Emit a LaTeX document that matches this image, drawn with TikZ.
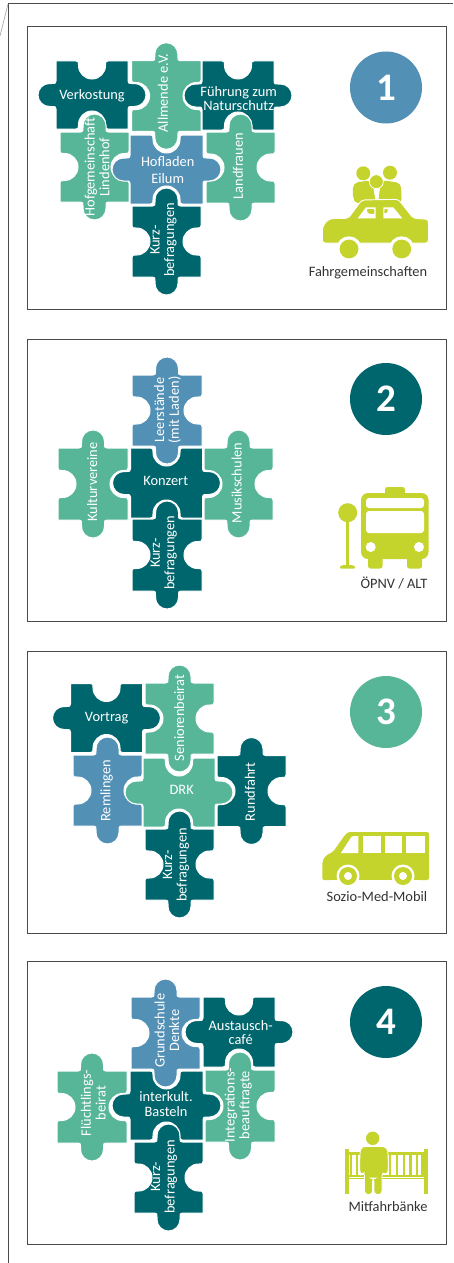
\documentclass[tikz,border=0pt]{standalone}
\usepackage{fontspec}
\setmainfont{Carlito}
\definecolor{teal}{HTML}{00666D}
\definecolor{mint}{HTML}{58B698}
\definecolor{sky}{HTML}{5390B5}
\definecolor{lime}{HTML}{C5D32D}
\definecolor{ink}{HTML}{333333}
\definecolor{frameline}{HTML}{4A4A4A}
\tikzset{
  frame/.style={draw=frameline,line width=1pt,fill=white},
  piecetext/.style={text=white,font=\fontsize{14.4}{14.6}\selectfont,align=center,inner sep=0pt},
  up/.style={piecetext,rotate=90},
  num/.style={circle,minimum size=72pt,inner sep=0pt,text=white,font=\fontsize{39}{39}\selectfont\bfseries},
  icontext/.style={text=ink,font=\fontsize{14.4}{15}\selectfont,inner sep=0pt},
  gap/.style={draw=white,line width=1pt}
}
\newcommand\pp[2]{({\ox+(\tx)*(#1)+(\nx)*(#2)*(\sg)},{\oy+(\ty)*(#1)+(\ny)*(#2)*(\sg)})}
\newcommand\W{(12.5-(\sg))}
\newcommand\sidepath{
  -- \pp{\len/2-\W-2.5}{0}
  .. controls \pp{\len/2-\W}{0} and \pp{\len/2-\W}{1} .. \pp{\len/2-\W}{4}
  -- \pp{\len/2-\W}{18-\W}
  .. controls \pp{\len/2-\W}{18-0.45*\W} and \pp{\len/2-0.55*\W}{18} .. \pp{\len/2}{18}
  .. controls \pp{\len/2+0.55*\W}{18} and \pp{\len/2+\W}{18-0.45*\W} .. \pp{\len/2+\W}{18-\W}
  -- \pp{\len/2+\W}{4}
  .. controls \pp{\len/2+\W}{1} and \pp{\len/2+\W}{0} .. \pp{\len/2+\W+2.5}{0}
  -- \pp{\len}{0}
}
% cx cy hw hh colour top right bottom left (+1 tab, -1 socket)
\newcommand\piece[9]{%
  \filldraw[fill=#5,gap] ({#1-#3},{#2-#4})
    \foreach \ox/\oy/\tx/\ty/\nx/\ny/\len/\sg in {
      #1-#3/#2-#4/1/0/0/-1/2*#3/#6,
      #1+#3/#2-#4/0/1/1/0/2*#4/#7,
      #1+#3/#2+#4/-1/0/0/1/2*#3/#8,
      #1-#3/#2+#4/0/-1/-1/0/2*#4/#9} {\sidepath} -- cycle;
}
\begin{document}
\begin{tikzpicture}[x=1pt,y=-1pt]
\useasboundingbox (0,0) rectangle (453,1263);
\fill[white] (0,0) rectangle (453,1263);
% outer lines
\coordinate (oa) at (453,4);
\coordinate (ob) at (8,4);
\coordinate (oc) at (8,1263);
\coordinate (od) at (0,36);
\draw[frameline,line width=1pt] (oa) -- (ob) -- (oc);
\draw[gray!70,line width=.7pt] (ob) -- (od);
% frames
\draw[frame] (27.3,27) rectangle (446.7,309);
\draw[frame] (27.3,339) rectangle (446.7,621);
\draw[frame] (27.3,651) rectangle (446.7,933);
\draw[frame] (27.3,961) rectangle (446.7,1244);

% ---------- panel 1
\piece{92}{95}{36}{34}{teal}{-1}{1}{-1}{1}
\piece{166.3}{96}{34.7}{35.3}{mint}{1}{-1}{1}{-1}
\piece{238}{95.5}{36}{34.5}{teal}{-1}{1}{-1}{1}
\piece{94.5}{167}{34.5}{35}{mint}{1}{-1}{1}{-1}
\piece{240.5}{167.5}{34.5}{35.5}{mint}{1}{-1}{1}{-1}
\piece{166.5}{241.5}{34.5}{35.5}{teal}{1}{-1}{1}{-1}
\piece{166.5}{169.5}{36.5}{34.5}{sky}{-1}{1}{-1}{1}
\node[piecetext] (n1a) at (92,96) {Verkostung};
\node[up] (n1b) at (163,93) {Allmende e.V.};
\node[piecetext] (n1c) at (238.7,98.7) {Führung zum\\Naturschutz};
\node[up] (n1d) at (97,167) {Hofgemeinschaft\\Lindenhof};
\node[piecetext,font=\fontsize{14.4}{17.5}\selectfont] (n1e) at (167.7,170) {Hofladen\\Eilum};
\node[up] (n1f) at (238,166) {Landfrauen};
\node[up] (n1g) at (163.5,240) {Kurz-\\befragungen};
\node[num,fill=sky] (c1) at (386,87.5) {1};

% car icon
\fill[lime] (363.3,173.3) circle (7);
\fill[lime] (390,172.7) circle (7);
\fill[lime,rounded corners=5pt] (356.7,204) -- (352.7,198) -- (353,183) -- (372,180) -- (376,204) -- cycle;
\fill[lime,rounded corners=5pt] (378,204) -- (381,180) -- (401,183) -- (401.7,204) -- cycle;
\filldraw[fill=lime,draw=white,line width=.8pt] (376.3,181.7) circle (7);
\filldraw[fill=lime,draw=white,line width=.8pt] (365.6,203) arc (180:0:10.7) -- cycle;
\filldraw[fill=lime,draw=white,line width=.9pt,rounded corners=3pt] (322.3,243) -- (322.3,232) .. controls (323,224) and (328,219) .. (335,218.5) -- (348.3,218.3) -- (361.7,200) -- (398.3,199.3) -- (413.3,218.3) -- (428.5,219.3) -- (428.5,243) -- cycle;
\fill[white] (357.7,218.3) -- (366,207.3) -- (375.7,207.3) -- (375.7,218.3) -- cycle;
\fill[white] (383.3,207.3) -- (393.3,207.3) -- (402.3,218.3) -- (383.3,218.3) -- cycle;
\fill[lime,rounded corners=1pt] (366.7,209) -- (374.3,209) -- (374.3,214) -- (368,213.5) -- cycle;
\fill[lime,rounded corners=1pt] (384.3,209) -- (388,209) -- (387,213) -- (384.3,213.5) -- cycle;
\fill[white] (349,249) circle (12.7);
\fill[white] (401.7,249) circle (12.7);
\fill[lime] (349,249) circle (9.4);
\fill[lime] (401.7,249) circle (9.4);
\node[icontext] (t1) at (368,273) {Fahrgemeinschaften};

% ---------- panel 2
\piece{167}{410.5}{35}{35.5}{sky}{1}{-1}{1}{-1}
\piece{93}{484}{35}{36}{mint}{1}{-1}{1}{-1}
\piece{238.5}{484}{34.5}{36}{mint}{1}{-1}{1}{-1}
\piece{167}{555}{35}{36}{teal}{1}{-1}{1}{-1}
\piece{166.5}{483}{36}{35}{teal}{-1}{1}{-1}{1}
\node[up] (n2a) at (167.5,410) {Leerstände\\(mit Laden)};
\node[piecetext] (n2b) at (165.7,481) {Konzert};
\node[up] (n2c) at (92.3,482) {Kulturvereine};
\node[up] (n2d) at (236.7,483) {Musikschulen};
\node[up] (n2e) at (163.7,553) {Kurz-\\befragungen};
\node[num,fill=teal] (c2) at (386,399) {2};
% bus icon
\fill[lime] (347.7,512.7) circle (9.5);
\fill[lime] (346.2,515) rectangle (349.2,566);
\fill[lime,rounded corners=1pt] (340,568.5) -- (340,566) -- (344,565) -- (351,565) -- (355,566) -- (355,568.5) -- cycle;
\fill[lime,rounded corners=2.5pt] (385,495) -- (385,487) -- (405,487) -- (405,495) -- cycle;
\fill[lime,rounded corners=2.5pt] (368,552) rectangle (382.5,568.5);
\fill[lime,rounded corners=2.5pt] (407,552) rectangle (422,568.5);
\fill[lime,rounded corners=7pt] (361,493) rectangle (428.5,559);
\fill[white,rounded corners=3pt] (366,498) rectangle (424,508);
\fill[white,rounded corners=3pt] (366,511) rectangle (424,533);
\fill[white] (370.7,547) circle (5);
\fill[white] (419,547) circle (5);
\node[icontext] (t2) at (394,583) {ÖPNV / ALT};

% ---------- panel 3
\piece{106.5}{718}{36}{34.5}{teal}{-1}{1}{-1}{1}
\piece{179.5}{718.5}{34.5}{35.5}{mint}{1}{-1}{1}{-1}
\piece{107.5}{790.5}{34.5}{35.5}{sky}{1}{-1}{1}{-1}
\piece{251.5}{791}{34.5}{35.5}{teal}{1}{-1}{1}{-1}
\piece{179.5}{864.5}{34.5}{35.5}{teal}{1}{-1}{1}{-1}
\piece{179}{792.5}{36}{34.5}{mint}{-1}{1}{-1}{1}
\node[piecetext] (n3a) at (106.7,717.7) {Vortrag};
\node[up] (n3b) at (179.3,718) {Seniorenbeirat};
\node[up] (n3c) at (106.7,790.7) {Remlingen};
\node[piecetext] (n3d) at (181.7,790) {DRK};
\node[up] (n3e) at (250,791.7) {Rundfahrt};
\node[up] (n3f) at (176,865) {Kurz-\\befragungen};
\node[num,fill=mint] (c3) at (386,712) {3};
% van icon
\fill[lime,rounded corners=2pt] (322.3,880) -- (322.3,865) .. controls (323,858) and (326,855) .. (333,852) -- (345,835) .. controls (347,833) and (349,832) .. (352,832) -- (429,832) -- (429,880) -- cycle;
\fill[white] (341,853) -- (350,839) .. controls (351,837) and (352,836) .. (354,836) -- (358.3,836) -- (358.3,853) -- cycle;
\fill[white] (363.3,836) rectangle (380.7,853);
\fill[white] (385,836) rectangle (402.3,853);
\fill[white] (406,836) rectangle (425,853);
\fill[white] (348,876) circle (11.5);
\fill[white] (403,876) circle (11.5);
\fill[white] (330,880) rectangle (420,890);
\fill[lime] (348,876) circle (9);
\fill[lime] (403,876) circle (9);
\fill[white] (348,876) circle (4);
\fill[white] (403,876) circle (4);
\node[icontext] (t3) at (377,897) {Sozio-Med-Mobil};

% ---------- panel 4
\piece{165.5}{1033}{34.5}{36}{sky}{1}{-1}{1}{-1}
\piece{239}{1032}{36}{35}{teal}{-1}{1}{-1}{1}
\piece{92}{1107}{35}{36}{mint}{1}{-1}{1}{-1}
\piece{240}{1106}{35}{36}{mint}{1}{-1}{1}{-1}
\piece{168.5}{1177.5}{34.5}{35.5}{teal}{1}{-1}{1}{-1}
\piece{166.5}{1105.5}{36.5}{34.5}{teal}{-1}{1}{-1}{1}
\node[up] (n4a) at (167,1030.7) {Grundschule\\Denkte};
\node[piecetext] (n4b) at (240.7,1032.7) {Austausch-\\café};
\node[up] (n4c) at (93.3,1103) {Flüchtlings-\\beirat};
\node[piecetext] (n4d) at (166,1104) {interkult.\\Basteln};
\node[up] (n4e) at (238.3,1105) {Integrations-\\beauftragte};
\node[up] (n4f) at (164,1176.7) {Kurz-\\befragungen};
\node[num,fill=teal] (c4) at (386,1022) {4};
% bench and person icon
\fill[lime] (345,1149) rectangle (349,1193.5);
\fill[lime] (424.3,1149) rectangle (428.3,1193.5);
\fill[lime] (345,1152) rectangle (428,1154.5);
\fill[lime] (345,1175) rectangle (428,1176.8);
\fill[lime] (345,1177.6) rectangle (428,1179);
\foreach \x in {350,355.7,389,396,403,409.3,416,421.2}{\fill[lime] (\x,1153) rectangle (\x+2.3,1176);}
\fill[lime] (372.7,1138.3) circle (6.7);
\filldraw[fill=lime,draw=white,line width=.8pt,rounded corners=3.5pt] (361,1175.5) -- (359.5,1170) -- (360,1154) .. controls (360.5,1149) and (363,1146.7) .. (367,1146.5) -- (380,1146.5) .. controls (385,1146.7) and (387.5,1149) .. (388,1154) -- (388.5,1170) -- (386.5,1175.5) -- (382,1172) -- (382,1194.5) -- (374,1194.5) -- (374,1178) -- (372.5,1178) -- (372.5,1194.5) -- (364.5,1194.5) -- (364.5,1172) -- cycle;
\node[icontext] (t4) at (388,1207) {Mitfahrbänke};
\end{tikzpicture}
\end{document}
